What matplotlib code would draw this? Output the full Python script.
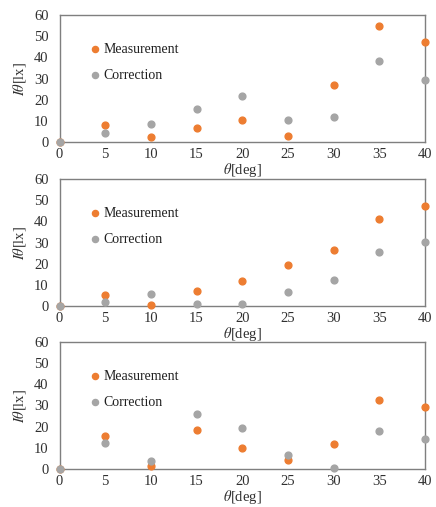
import matplotlib.pyplot as plt

plt.rcParams['font.family'] = ['Liberation Serif', 'DejaVu Serif']
plt.rcParams['mathtext.fontset'] = 'stix'

theta = [0, 5, 10, 15, 20, 25, 30, 35, 40]

meas_1 = [0, 8.0, 2.2, 6.5, 10.4, 2.7, 26.8, 54.8, 47.2]
corr_1 = [0, 4.4, 8.7, 15.6, 21.8, 10.4, 11.8, 38.2, 29.2]

meas_2 = [0, 5.4, 0.3, 7.3, 12.0, 19.3, 26.5, 41.2, 47.2]
corr_2 = [0, 1.9, 5.7, 1.1, 1.1, 6.5, 12.5, 25.4, 30.2]

meas_3 = [0, 15.6, 1.6, 18.3, 9.7, 4.4, 11.9, 32.4, 29.5]
corr_3 = [0, 12.5, 3.7, 26.0, 19.5, 6.7, 0.5, 17.8, 14.0]

panels = [(meas_1, corr_1), (meas_2, corr_2), (meas_3, corr_3)]
tops = [15, 179, 342]

W, H = 436, 507
fig = plt.figure(figsize=(W / 100, H / 100), dpi=100)

for (meas, corr), top in zip(panels, tops):
    ax = fig.add_axes([59.5 / W, 1 - (top + 127) / H, 365.5 / W, 127 / H])
    ax.scatter(theta, meas, s=24, color='#ED7D31', label='Measurement',
               clip_on=False, zorder=3)
    ax.scatter(theta, corr, s=24, color='#A5A5A5', label='Correction',
               clip_on=False, zorder=3)
    ax.set_xlim(0, 40)
    ax.set_ylim(0, 60)
    ax.set_xticks(range(0, 41, 5))
    ax.set_yticks(range(0, 61, 10))
    ax.tick_params(length=0, labelsize=10.5, colors='#303030')
    ax.tick_params(axis='x', pad=4)
    ax.tick_params(axis='y', pad=8)
    for sp in ax.spines.values():
        sp.set_color('#7f7f7f')
        sp.set_linewidth(1.0)
    ax.set_xlabel(r'$\theta$[deg]', fontsize=10.5, labelpad=0, color='#303030')
    ax.set_ylabel(r'$I\theta$[lx]', fontsize=10.5, labelpad=4, color='#303030')
    ax.legend(loc='upper left', bbox_to_anchor=(0.085, 0.78), frameon=False,
              fontsize=10, handlelength=0.6, handletextpad=0.3,
              labelspacing=0.95, borderaxespad=0, borderpad=0,
              scatterpoints=1, markerscale=0.9, labelcolor='#202020')

fig.savefig('out.png', dpi=100)
